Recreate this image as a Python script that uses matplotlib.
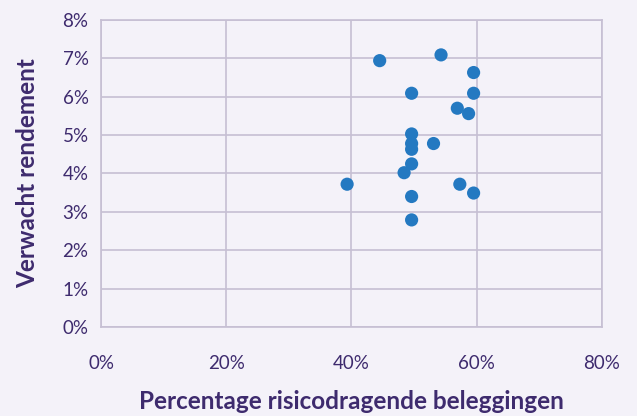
import matplotlib
matplotlib.use("Agg")
import matplotlib.pyplot as plt
from matplotlib.ticker import PercentFormatter

# ---------------------------------------------------------------------
# Data
# ---------------------------------------------------------------------

risky_share = [44.5, 54.3, 59.5, 49.6, 59.5, 56.9, 58.7, 49.6, 49.6,
               53.1, 49.6, 49.6, 48.4, 39.3, 57.3, 59.5, 49.6, 49.6]
expected_return = [6.94, 7.09, 6.63, 6.09, 6.09, 5.70, 5.56, 5.03, 4.78,
                   4.78, 4.63, 4.25, 4.02, 3.72, 3.72, 3.49, 3.40, 2.79]

x_ticks = [0, 20, 40, 60, 80]
y_ticks = [0, 1, 2, 3, 4, 5, 6, 7, 8]

# ---------------------------------------------------------------------
# Style
# ---------------------------------------------------------------------

bg = "#f4f2f9"
text_color = "#3e2b6e"
grid_color = "#c6bfd3"
dot_color = "#2479c1"

plt.rcParams["font.family"] = ["Lato", "DejaVu Sans"]

fig = plt.figure(figsize=(6.37, 4.16), dpi=100, facecolor=bg)
ax = fig.add_axes([0.1586, 0.214, 0.7864, 0.738], facecolor=bg)

ax.scatter(risky_share, expected_return, s=90, color=dot_color,
           edgecolors="none", zorder=3)

ax.set_xlim(0, 80)
ax.set_ylim(0, 8)
ax.set_xticks(x_ticks)
ax.set_yticks(y_ticks)
ax.xaxis.set_major_formatter(PercentFormatter(decimals=0))
ax.yaxis.set_major_formatter(PercentFormatter(decimals=0))

ax.grid(True, color=grid_color, linewidth=1.2)
ax.set_axisbelow(True)
for side in ax.spines.values():
    side.set_color(grid_color)
    side.set_linewidth(1.2)

ax.tick_params(length=0, labelsize=13.5, labelcolor=text_color)
ax.tick_params(axis="x", pad=20)
ax.tick_params(axis="y", pad=9)

ax.set_xlabel("Percentage risicodragende beleggingen", fontsize=17.5,
              fontweight="bold", color=text_color, va="center")
ax.xaxis.set_label_coords(0.5, -0.244)
ax.set_ylabel("Verwacht rendement", fontsize=17.5, fontweight="bold",
              color=text_color, va="center")
ax.yaxis.set_label_coords(-0.146, 0.5)

plt.savefig("out.png", dpi=100, facecolor=bg)
